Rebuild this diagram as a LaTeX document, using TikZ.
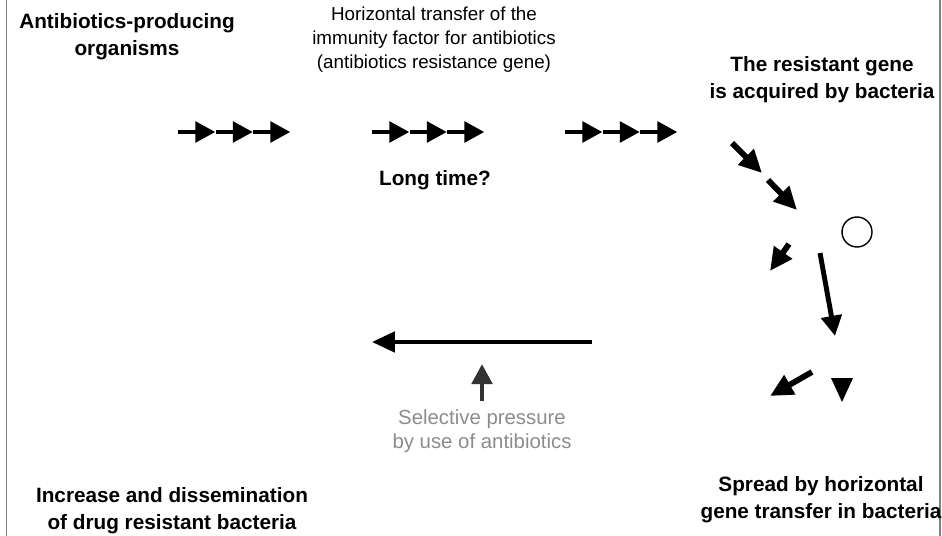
\documentclass[tikz,border=0pt]{standalone}
\usepackage{fontspec}
\setmainfont{Liberation Sans}
\usetikzlibrary{arrows.meta}

\begin{document}
\begin{tikzpicture}[x=0.02cm,y=-0.02cm,>={Triangle[length=11.5pt,width=11.5pt]},
  lbl/.style={align=center,font=\fontsize{11.8}{15.3}\selectfont\bfseries},
  note/.style={align=center,font=\fontsize{10.7}{13.6}\selectfont},
  fat/.style={line width=2.8pt,->},
  fatter/.style={line width=3.3pt,-{Triangle[length=13pt,width=12pt]}}]
  \useasboundingbox (0,0) rectangle (942,536);
  \draw[gray,line width=0.8pt] (6.5,0)--(6.5,536);
  \draw[gray,line width=0.8pt] (940,0)--(940,536);
  % texts
  \node[lbl] (producers) at (127,37) {Antibiotics-producing\\organisms};
  \node[note] (transfer) at (434,40) {Horizontal transfer of the\\immunity factor for antibiotics\\(antibiotics resistance gene)};
  \node[lbl] (acquired) at (822,80) {The resistant gene\\is acquired by bacteria};
  \node[lbl] (longtime) at (435,180) {Long time?};
  \node[lbl] (spread) at (821,500) {Spread by horizontal\\gene transfer in bacteria};
  \node[lbl] (increase) at (172,511) {Increase and dissemination\\of drug resistant bacteria};
  \node[note,text=black!45,font=\fontsize{11.6}{13.6}\selectfont] (pressure) at (482,431) {Selective pressure\\by use of antibiotics};
  % rows of arrows
  \foreach \g in {178,372,565}
  {
    \foreach \i in {0,1,2}
      \draw[fat](\g+\i*37.5,132)--++(37.5,0);
  }
  % path down the right side
  \draw[fatter](732,143)--(762,173);
  \draw[fatter](768,180)--(797,210);
  \node[draw,circle,line width=0.8pt,minimum size=0.6cm,inner sep=0pt] (gene) at (857,232) {};
  \draw[fatter](789,244)--(770,271);
  \draw[fat](820,253)--(835,336);
  \draw[fatter](812,372)--(770,396);
  \fill (831,378)--(853,378)--(842,402)--cycle;
  % selection
  \draw[line width=2.3pt,-{Triangle[length=13pt,width=11.5pt]}](592,342)--(372,342);
  \draw[fat,black!80](482,401)--(482,364);
\end{tikzpicture}
\end{document}
